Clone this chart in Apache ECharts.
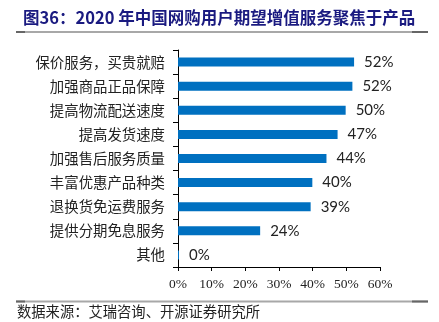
<!DOCTYPE html>
<html>
<head>
<meta charset="utf-8">
<script src="https://cdn.jsdelivr.net/npm/echarts@6/dist/echarts.min.js"></script>
<style>
html,body{margin:0;padding:0;background:#fff;}
#chart{width:439px;height:322px;}
</style>
</head>
<body>
<div id="chart"></div>
<script>
const titleText = '图36：2020 年中国网购用户期望增值服务聚焦于产品';
const sourceText = '数据来源：艾瑞咨询、开源证券研究所';
const categories = ['保价服务，买贵就赔','加强商品正品保障','提高物流配送速度','提高发货速度','加强售后服务质量','丰富优惠产品种类','退换货免运费服务','提供分期免息服务','其他'];
const values = [52.3, 51.8, 49.8, 47.4, 44.1, 39.9, 39.4, 24.4, 0.3];
const xTicks = [0, 10, 20, 30, 40, 50, 60];

const chart = echarts.init(document.getElementById('chart'), null, {renderer:'canvas'});
const cjk = '"Noto Sans CJK SC", sans-serif';
chart.setOption({
  animation:false,
  backgroundColor:'#fff',
  title:{
    text:titleText, left:18, top:4,
    textStyle:{fontFamily:cjk, fontSize:16.5, fontWeight:'bold', color:'#1a1a80'}
  },
  grid:{left:178, right:59, top:50, bottom:55, containLabel:false},
  xAxis:{
    type:'value', min:xTicks[0], max:xTicks[xTicks.length-1], interval:10,
    axisLine:{show:true, lineStyle:{color:'#000', width:1}},
    axisTick:{show:true, length:4, lineStyle:{color:'#000'}},
    splitLine:{show:false},
    axisLabel:{formatter:v=>v+'%', fontFamily:'"Liberation Serif", serif', fontSize:13.5, color:'#222', margin:10}
  },
  yAxis:{
    type:'category', data:categories, inverse:true,
    axisLine:{show:true, lineStyle:{color:'#000', width:1}},
    axisTick:{show:true, length:5, lineStyle:{color:'#000'}},
    axisLabel:{fontFamily:cjk, fontSize:14.4, color:'#222', margin:13}
  },
  series:[{
    type:'bar', data:values, barWidth:9,
    itemStyle:{color:'#0070C0'},
    label:{show:true, position:'right', distance:10, formatter:p=>Math.round(p.value)+'%',
      fontFamily:'Lato, "Liberation Sans", sans-serif', fontSize:15, color:'#222'}
  }],
  graphic:[
    {type:'line', shape:{x1:16,y1:32,x2:428,y2:32}, style:{stroke:'#a8a8a8', lineWidth:2}},
    {type:'line', shape:{x1:16,y1:32,x2:25,y2:32}, style:{stroke:'#666', lineWidth:2}},
    {type:'line', shape:{x1:412,y1:32,x2:428,y2:32}, style:{stroke:'#666', lineWidth:2}},
    {type:'line', shape:{x1:16,y1:301.5,x2:428,y2:301.5}, style:{stroke:'#a8a8a8', lineWidth:2}},
    {type:'line', shape:{x1:16,y1:301.5,x2:25,y2:301.5}, style:{stroke:'#666', lineWidth:2}},
    {type:'line', shape:{x1:412,y1:301.5,x2:428,y2:301.5}, style:{stroke:'#666', lineWidth:2}},
    {type:'text', left:17, top:304, style:{text:sourceText, font:'14.3px "Noto Sans CJK SC", sans-serif', fill:'#222'}}
  ]
});
</script>
</body>
</html>
